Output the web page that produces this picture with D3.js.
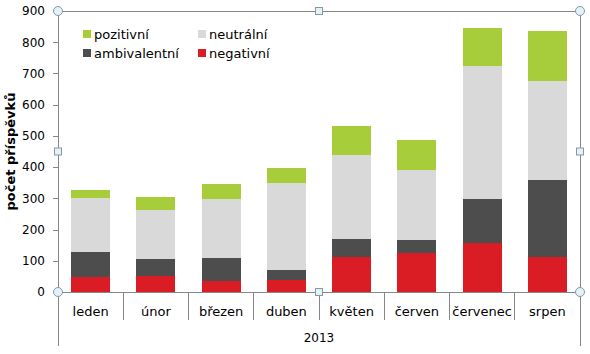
<!DOCTYPE html>
<html>
<head>
<meta charset="utf-8">
<script src="https://cdn.jsdelivr.net/npm/d3@7"></script>
<style>
  body { margin: 0; background: #fff; }
  text { font-family: "DejaVu Sans", sans-serif; fill: #000; }
</style>
</head>
<body>
<svg id="chart"></svg>
<script>
// months (categories) and the year group under them
const months = ['leden', 'únor', 'březen', 'duben', 'květen', 'červen', 'červenec', 'srpen'];
const year = '2013';

// series values, bottom to top of each stack
const negativni = [47, 52, 36, 40, 111, 124, 156, 113];
const ambivalentni = [82, 55, 74, 29, 60, 44, 143, 247];
const neutralni = [173, 157, 189, 281, 267, 224, 426, 317];
const pozitivni = [26, 41, 48, 47, 95, 96, 122, 160];

const seriesNames = ['negativní', 'ambivalentní', 'neutrální', 'pozitivní'];
const seriesColors = ['#da1c24', '#4d4d4d', '#d9d9d9', '#a8cd3a'];
const yTicks = [0, 100, 200, 300, 400, 500, 600, 700, 800, 900];

const width = 590, height = 354;
const margin = { top: 11, right: 10, bottom: 62, left: 58 };
const plotW = 580 - margin.left;
const plotH = 292 - margin.top;

const svg = d3.select('#chart').attr('width', width).attr('height', height);

const rows = months.map((m, i) => ({
  month: m,
  'negativní': negativni[i],
  'ambivalentní': ambivalentni[i],
  'neutrální': neutralni[i],
  'pozitivní': pozitivni[i]
}));
const stacked = d3.stack().keys(seriesNames)(rows);

const x = d3.scaleBand().domain(months).range([margin.left, margin.left + plotW]).paddingInner(0.4).paddingOuter(0.2);
const xOuter = d3.scaleBand().domain(months).range([margin.left, margin.left + plotW]);
const y = d3.scaleLinear().domain([0, 900]).range([margin.top + plotH, margin.top]);

const axisColor = '#868686';

// bars
svg.append('g')
  .selectAll('g')
  .data(stacked)
  .join('g')
  .attr('fill', (d, i) => seriesColors[i])
  .selectAll('rect')
  .data(d => d)
  .join('rect')
  .attr('x', d => x(d.data.month))
  .attr('width', x.bandwidth())
  .attr('y', d => y(d[1]))
  .attr('height', d => y(d[0]) - y(d[1]))
  .attr('shape-rendering', 'crispEdges');

// y axis
const yAxis = svg.append('g')
  .attr('transform', `translate(${margin.left},0)`)
  .call(d3.axisLeft(y).tickValues(yTicks).tickSize(5).tickPadding(8).tickSizeOuter(0));
yAxis.select('.domain').remove();
yAxis.selectAll('line').attr('stroke', axisColor).attr('shape-rendering', 'crispEdges');
yAxis.selectAll('text').style('font-size', '12px').style('font-family', '"DejaVu Sans", sans-serif');

// plot frame lines (left axis line runs down past the month labels)
const frame = svg.append('g').attr('stroke', axisColor).attr('shape-rendering', 'crispEdges');
frame.append('line').attr('x1', margin.left).attr('x2', margin.left).attr('y1', y(900)).attr('y2', 346);
frame.append('line').attr('x1', margin.left + plotW).attr('x2', margin.left + plotW).attr('y1', y(900)).attr('y2', 346);
frame.append('line').attr('x1', margin.left).attr('x2', margin.left + plotW).attr('y1', y(900)).attr('y2', y(900));
frame.append('line').attr('x1', margin.left).attr('x2', margin.left + plotW).attr('y1', y(0)).attr('y2', y(0));

// category dividers
frame.selectAll('.div')
  .data(months.slice(1))
  .join('line')
  .attr('x1', d => xOuter(d)).attr('x2', d => xOuter(d))
  .attr('y1', y(0)).attr('y2', y(0) + 28);

// month labels
svg.append('g')
  .selectAll('text')
  .data(months)
  .join('text')
  .attr('x', d => xOuter(d) + xOuter.bandwidth() / 2)
  .attr('y', y(0) + 24)
  .attr('text-anchor', 'middle')
  .style('font-size', '13px')
  .text(d => d);

// year label
svg.append('text')
  .attr('x', margin.left + plotW / 2)
  .attr('y', 342)
  .attr('text-anchor', 'middle')
  .style('font-size', '12px')
  .text(year);

// y axis title
svg.append('text')
  .attr('transform', `translate(15,${margin.top + plotH / 2}) rotate(-90)`)
  .attr('text-anchor', 'middle')
  .style('font-size', '13px')
  .style('font-weight', 'bold')
  .text('počet příspěvků');

// legend, two columns
const legendOrder = ['pozitivní', 'neutrální', 'ambivalentní', 'negativní'];
const legend = svg.append('g')
  .selectAll('g')
  .data(legendOrder)
  .join('g')
  .attr('transform', (d, i) => `translate(${83 + (i % 2) * 115},${34 + Math.floor(i / 2) * 19})`);
legend.append('rect')
  .attr('x', 0).attr('y', -4).attr('width', 8).attr('height', 8)
  .attr('fill', d => seriesColors[seriesNames.indexOf(d)]);
legend.append('text')
  .attr('x', 11).attr('y', 5)
  .style('font-size', '13px')
  .text(d => d);

// selection handles of the plot area
const x0 = margin.left, x1 = margin.left + plotW, xm = (x0 + x1) / 2;
const y0 = y(900), y1 = y(0), ym = (y0 + y1) / 2;
const handles = svg.append('g').attr('fill', '#e2f3f8').attr('stroke', '#8a97a3');
handles.selectAll('circle')
  .data([[x0, y0], [x1, y0], [x0, y1], [x1, y1]])
  .join('circle')
  .attr('cx', d => d[0]).attr('cy', d => d[1]).attr('r', 4.5);
handles.selectAll('rect')
  .data([[xm, y0], [x0, ym], [x1, ym], [xm, y1]])
  .join('rect')
  .attr('x', d => d[0] - 3.5).attr('y', d => d[1] - 3.5)
  .attr('width', 7).attr('height', 7);
</script>
</body>
</html>
